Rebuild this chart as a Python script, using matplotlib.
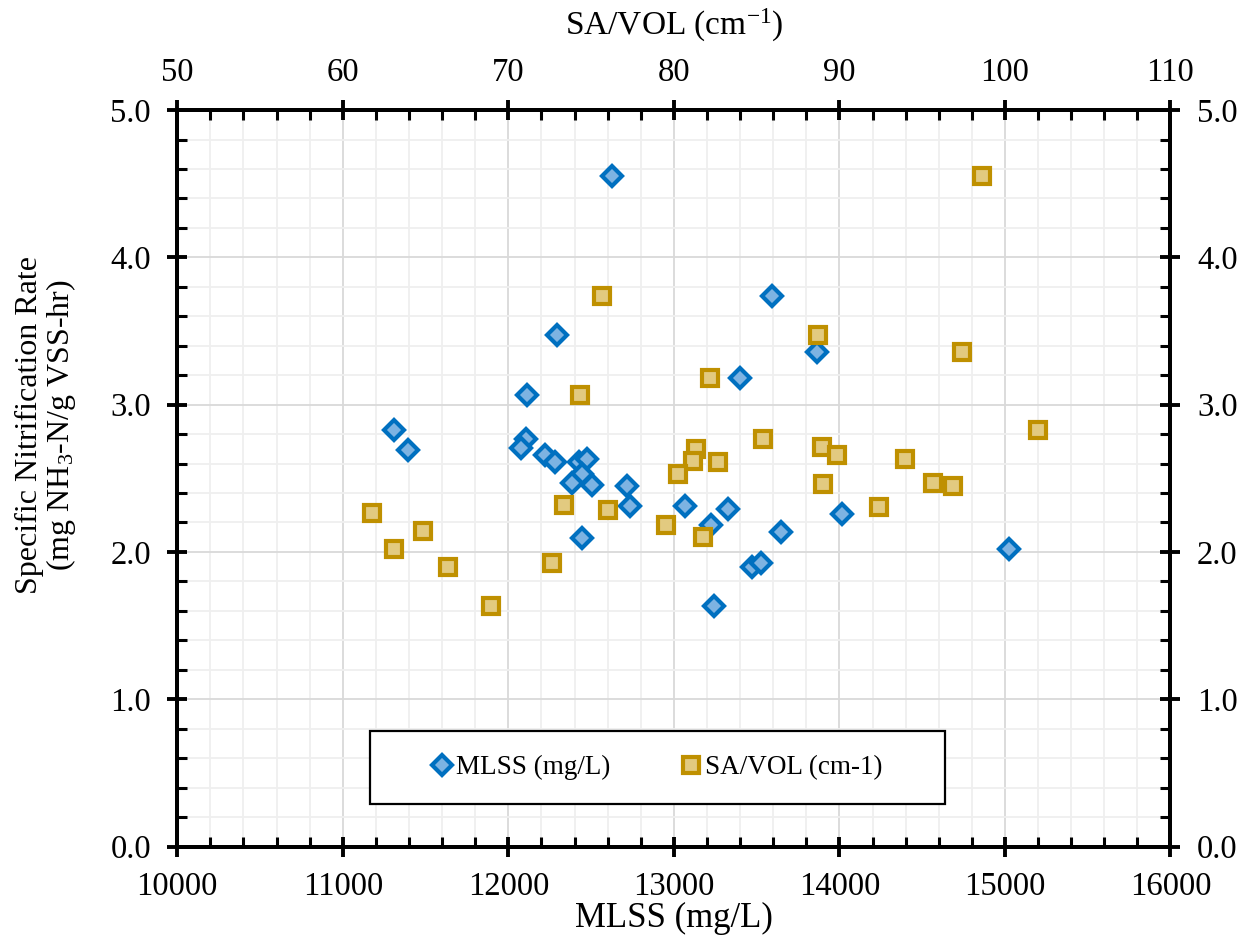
import numpy as np
import matplotlib
matplotlib.use("Agg")
import matplotlib.pyplot as plt
from matplotlib.patches import Rectangle
from matplotlib.ticker import MultipleLocator, FormatStrFormatter

plt.rcParams["font.family"] = ["Liberation Serif", "DejaVu Serif"]
plt.rcParams["mathtext.fontset"] = "custom"
plt.rcParams["mathtext.rm"] = "Liberation Serif"
plt.rcParams["mathtext.it"] = "Liberation Serif:italic"

# MLSS series (bottom axis)
mlss = [12625, 13594, 12296, 13862, 13398, 12111, 11311, 11394, 12105, 12079,
        12222, 12282, 12429, 12474, 12447, 12387, 12504, 12715, 12733, 12447,
        13069, 13223, 13326, 13646, 13474, 13525, 13243, 14018, 15025]
mlss_rate = [4.55, 3.74, 3.47, 3.36, 3.18, 3.065, 2.83, 2.69, 2.77, 2.705,
             2.66, 2.61, 2.61, 2.63, 2.53, 2.47, 2.455, 2.45, 2.315, 2.094,
             2.31, 2.184, 2.29, 2.137, 1.90, 1.924, 1.63, 2.26, 2.02]

# SA/VOL series (top axis)
savol = [98.6, 75.67, 88.69, 97.39, 82.18, 74.33, 102.0, 85.4, 81.34, 88.97,
         89.85, 93.96, 82.67, 81.15, 80.23, 95.64, 96.86, 89.03, 92.39, 73.38,
         76.0, 61.78, 79.52, 64.82, 81.78, 63.11, 72.64, 66.37, 68.95]
savol_rate = [4.555, 3.74, 3.47, 3.356, 3.18, 3.063, 2.826, 2.766, 2.70, 2.709,
              2.655, 2.63, 2.61, 2.614, 2.531, 2.467, 2.449, 2.458, 2.306, 2.318,
              2.288, 2.261, 2.184, 2.139, 2.098, 2.019, 1.924, 1.897, 1.634]

blue_edge = "#0070C0"
blue_face = "#7DB3E2"
gold_edge = "#BF9000"
gold_face = "#E2CA80"

fig = plt.figure(figsize=(12.52, 9.47), dpi=100)
ax = fig.add_axes([0.1416, 0.1061, 0.7933, 0.7777])
ax2 = ax.twiny()

ax.set_xlim(10000, 16000)
ax.set_ylim(0, 5)
ax2.set_xlim(50, 110)

ax.xaxis.set_major_locator(MultipleLocator(1000))
ax.xaxis.set_minor_locator(MultipleLocator(200))
ax.yaxis.set_major_locator(MultipleLocator(1.0))
ax.yaxis.set_minor_locator(MultipleLocator(0.2))
ax2.xaxis.set_major_locator(MultipleLocator(10))
ax2.xaxis.set_minor_locator(MultipleLocator(2))
ax.yaxis.set_major_formatter(FormatStrFormatter("%.1f"))

ax.grid(which="major", color="#D9D9D9", linewidth=1.3)
ax.grid(which="minor", color="#EFEFEF", linewidth=1.3)
ax.set_axisbelow(True)

h1, = ax.plot(mlss, mlss_rate, linestyle="none", marker="D", markersize=10,
              markerfacecolor=blue_face, markeredgecolor=blue_edge,
              markeredgewidth=3.0, label="MLSS (mg/L)", zorder=3)
h2, = ax2.plot(savol, savol_rate, linestyle="none", marker="s", markersize=12,
               markerfacecolor=gold_face, markeredgecolor=gold_edge,
               markeredgewidth=3.0, label="SA/VOL (cm-1)", zorder=3)

for a in (ax, ax2):
    for s in a.spines.values():
        s.set_linewidth(2.8)
        s.set_color("black")

ax.tick_params(which="major", direction="inout", length=14, width=2.8,
               labelsize=23.5, top=False, right=True, labelright=True,
               pad=12)
ax.tick_params(which="minor", direction="in", length=7, width=2.2,
               top=False, right=True)
ax.tick_params(axis="x", which="major", pad=11)
ax2.tick_params(which="major", direction="inout", length=14, width=2.8,
                labelsize=23.5, pad=9)
ax2.tick_params(which="minor", direction="in", length=7, width=2.2)

ax.set_xlabel("MLSS (mg/L)", fontsize=25, labelpad=0)
ax2.set_xlabel("SA/VOL (cm$^{-1}$)", fontsize=24, labelpad=16)
ax.set_ylabel("Specific Nitrification Rate\n(mg NH$_3$-N/g VSS-hr)",
              fontsize=23, linespacing=1.0)
ax.yaxis.set_label_coords(-0.1, 0.572)

box = Rectangle((0.194, 0.0577), 0.579, 0.0995, transform=ax.transAxes,
                facecolor="white", edgecolor="black", linewidth=1.6, zorder=5)
ax2.add_patch(box)
leg = ax2.legend(handles=[h1, h2], loc="center", bbox_to_anchor=(0.483, 0.1073),
                 bbox_transform=ax.transAxes, ncol=2, frameon=False,
                 fontsize=19.5, handlelength=0.8, handletextpad=0.1,
                 columnspacing=2.6, borderpad=0)
leg.set_zorder(6)

fig.savefig("out.png", dpi=100)
